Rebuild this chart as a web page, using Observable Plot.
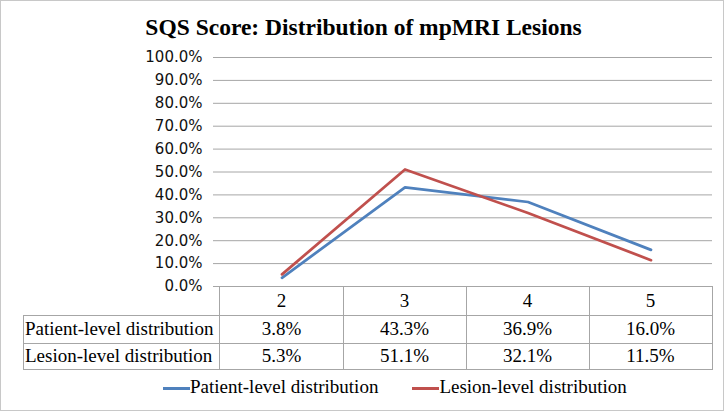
<!DOCTYPE html>
<html><head><meta charset="utf-8">
<script src="https://cdn.jsdelivr.net/npm/d3@7"></script>
<script src="https://cdn.jsdelivr.net/npm/@observablehq/plot@0.6"></script>
<style>
body{margin:0;background:#fff;}
#wrap{position:relative;width:728px;height:412px;overflow:hidden;font-family:"Liberation Serif",serif;color:#000;}
#frame{position:absolute;left:0;top:0;width:724px;height:411px;box-sizing:border-box;border:1.5px solid #c8c8c8;}
#title{position:absolute;left:0;top:15px;width:727px;text-align:center;font-weight:bold;font-size:23.5px;line-height:24px;}
.hl{position:absolute;height:1px;background:#a6a6a6;}
.vl{position:absolute;width:1px;background:#a6a6a6;}
.cell{position:absolute;display:flex;align-items:center;justify-content:center;font-size:19px;white-space:nowrap;}
.lab{justify-content:flex-start;padding-left:2px;box-sizing:border-box;}
#legend{position:absolute;top:377px;font-size:19px;line-height:20px;white-space:nowrap;}
.sw{display:inline-block;width:27px;height:3px;vertical-align:middle;margin-top:-1px;}
svg{position:absolute;left:0;top:0;}
</style></head><body><div id="wrap"><div id="frame"></div><div id="title"></div></div>
<script>
const chartTitle = "SQS Score: Distribution of mpMRI Lesions";
const categories = ["2", "3", "4", "5"];
const seriesNames = ["Patient-level distribution", "Lesion-level distribution"];
const patientValues = [3.8, 43.3, 36.9, 16.0];
const lesionValues = [5.3, 51.1, 32.1, 11.5];
const yTicks = [0, 10, 20, 30, 40, 50, 60, 70, 80, 90, 100];
const seriesColors = ["#4F81BD", "#C0504D"];

const seriesValues = [patientValues, lesionValues];
const rows = [];
seriesNames.forEach((s, j) => categories.forEach((c, i) => rows.push({cat: c, series: s, value: seriesValues[j][i]})));
const fmt = d => d.toFixed(1) + "%";

const wrap = document.getElementById("wrap");
document.getElementById("title").textContent = chartTitle;

const chart = Plot.plot({
  width: 728, height: 300,
  marginTop: 57, marginBottom: 14, marginLeft: 219, marginRight: 16,
  style: {background: "transparent", overflow: "visible"},
  x: {type: "band", domain: categories, padding: 0, axis: null},
  y: {domain: [0, 100]},
  color: {domain: seriesNames, range: seriesColors},
  marks: [
    Plot.gridY(yTicks, {stroke: "#a6a6a6", strokeOpacity: 1}),
    Plot.axisY(yTicks, {tickSize: 6, tickPadding: 11, tickFormat: fmt, fontSize: 15, fontFamily: "DejaVu Sans", stroke: "#a6a6a6", fill: "#111", line: true, label: null}),
    Plot.line(rows, {x: "cat", y: "value", z: "series", stroke: "series", strokeWidth: 2.75})
  ]
});
wrap.appendChild(chart);

// data table under the plot, aligned to the x scale
const xs = chart.scale("x");
const left0 = 23, plotLeft = 219;
const plotRight = xs.apply(categories[categories.length - 1]) + xs.bandwidth;
const rowEdges = [286, 315, 343, 369];
function add(cls, style, text) {
  const d = document.createElement("div");
  d.className = cls;
  Object.assign(d.style, style);
  if (text != null) d.textContent = text;
  wrap.appendChild(d);
  return d;
}
// horizontal lines
add("hl", {left: plotLeft + "px", top: rowEdges[0] + "px", width: (plotRight - plotLeft + 1) + "px"});
for (let r = 1; r < rowEdges.length; r++) add("hl", {left: left0 + "px", top: rowEdges[r] + "px", width: (plotRight - left0 + 1) + "px"});
// vertical lines
add("vl", {left: left0 + "px", top: rowEdges[1] + "px", height: (rowEdges[3] - rowEdges[1] + 1) + "px"});
add("vl", {left: plotLeft + "px", top: rowEdges[0] + "px", height: (rowEdges[3] - rowEdges[0] + 1) + "px"});
categories.forEach(c => add("vl", {left: Math.round(xs.apply(c) + xs.bandwidth) + "px", top: rowEdges[0] + "px", height: (rowEdges[3] - rowEdges[0] + 1) + "px"}));
// header
categories.forEach(c => add("cell", {left: xs.apply(c) + "px", width: xs.bandwidth + "px", top: rowEdges[0] + "px", height: (rowEdges[1] - rowEdges[0]) + "px"}, c));
// rows
seriesNames.forEach((s, j) => {
  add("cell lab", {left: left0 + "px", width: (plotLeft - left0) + "px", top: rowEdges[j + 1] + "px", height: (rowEdges[j + 2] - rowEdges[j + 1]) + "px"}, s);
  categories.forEach((c, i) => add("cell", {left: xs.apply(c) + "px", width: xs.bandwidth + "px", top: rowEdges[j + 1] + "px", height: (rowEdges[j + 2] - rowEdges[j + 1]) + "px"}, fmt(seriesValues[j][i])));
});
// legend
const leg = add("", {left: "163px"});
leg.id = "legend";
seriesNames.forEach((s, j) => {
  const item = document.createElement("span");
  item.style.marginRight = j === 0 ? "34px" : "0";
  const sw = document.createElement("span");
  sw.className = "sw";
  sw.style.background = chart.scale("color").apply(s);
  item.appendChild(sw);
  item.appendChild(document.createTextNode(s));
  leg.appendChild(item);
});
</script></body></html>
